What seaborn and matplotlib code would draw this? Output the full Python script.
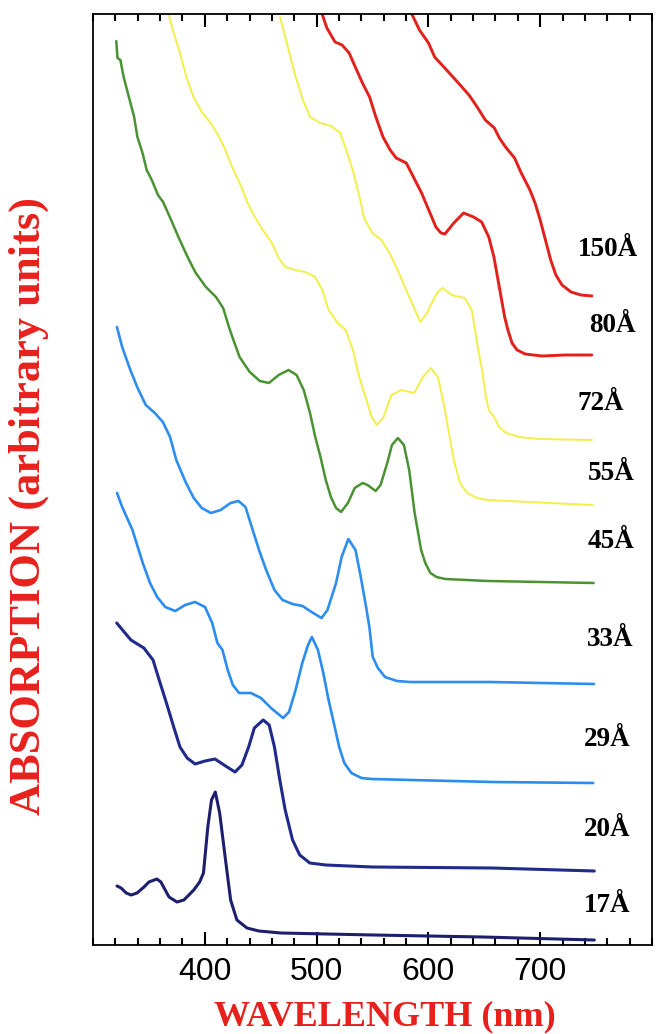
import matplotlib
matplotlib.use("Agg")
import matplotlib.pyplot as plt
import seaborn as sns
import pandas as pd
from matplotlib.ticker import FixedLocator, MultipleLocator

# ---------------- data (wavelength in nm, absorption in arbitrary units, offset stacked) -------------
sizes = ["17Å", "20Å", "29Å", "33Å", "45Å", "55Å", "72Å", "80Å", "150Å"]

wl_17 = [321.5, 325.1, 329.7, 334.1, 339.4, 345.6, 350.0, 357.1, 360.7, 368.0, 375.1, 381.3,
         387.5, 390.1, 395.4, 398.8, 402.7, 406.0, 409.4, 413.3, 418.2, 423.1, 428.7, 437.7,
         448.4, 468.0, 550.8, 648.7, 748.4]
ab_17 = [0.59, 0.57, 0.52, 0.50, 0.52, 0.58, 0.63, 0.66, 0.63, 0.48, 0.43, 0.45,
         0.52, 0.55, 0.63, 0.72, 1.18, 1.45, 1.53, 1.32, 0.88, 0.45, 0.25, 0.17,
         0.14, 0.12, 0.10, 0.08, 0.05]

wl_20 = [321.2, 333.9, 345.5, 353.7, 359.2, 365.7, 372.2, 377.8, 384.2, 391.3, 400.2, 409.1,
         417.2, 427.0, 433.2, 439.2, 444.3, 452.2, 457.6, 462.3, 467.1, 471.9, 478.5, 484.9,
         493.9, 508.2, 550.0, 656.8, 748.4]
ab_20 = [3.22, 3.05, 2.97, 2.85, 2.65, 2.42, 2.18, 1.98, 1.87, 1.81, 1.84, 1.86,
         1.80, 1.73, 1.80, 1.98, 2.17, 2.25, 2.20, 1.98, 1.65, 1.35, 1.05, 0.90,
         0.82, 0.80, 0.78, 0.77, 0.74]

wl_29 = [321.5, 326.1, 335.3, 344.5, 351.0, 357.4, 364.6, 373.6, 382.4, 391.3, 400.2, 406.6,
         411.3, 415.8, 420.5, 425.1, 430.6, 441.2, 450.2, 459.2, 470.0, 475.3, 481.2, 487.2,
         492.3, 495.8, 501.2, 506.0, 510.7, 515.4, 520.2, 524.8, 531.1, 540.1, 549.0, 657.6,
         747.4]
ab_29 = [4.52, 4.38, 4.15, 3.82, 3.62, 3.48, 3.38, 3.34, 3.40, 3.43, 3.38, 3.22,
         3.02, 2.95, 2.75, 2.60, 2.52, 2.52, 2.47, 2.37, 2.27, 2.33, 2.55, 2.82,
         3.00, 3.08, 2.95, 2.72, 2.45, 2.22, 1.98, 1.82, 1.72, 1.67, 1.66, 1.63,
         1.62]

wl_33 = [321.4, 326.1, 333.4, 339.9, 347.2, 355.3, 362.5, 368.9, 374.5, 382.8, 390.1, 397.3,
         405.4, 414.2, 423.0, 430.1, 436.4, 442.0, 448.5, 454.9, 462.3, 469.5, 478.5, 487.4,
         495.5, 504.4, 509.7, 517.4, 522.4, 528.4, 534.8, 539.5, 544.3, 547.2, 550.2, 554.8,
         561.2, 571.9, 583.5, 654.6, 748.1]
ab_33 = [6.18, 5.98, 5.75, 5.57, 5.40, 5.32, 5.23, 5.08, 4.85, 4.63, 4.47, 4.37,
         4.32, 4.35, 4.42, 4.44, 4.38, 4.18, 3.95, 3.75, 3.55, 3.45, 3.41, 3.39,
         3.33, 3.27, 3.35, 3.62, 3.88, 4.06, 3.95, 3.68, 3.38, 3.18, 2.88, 2.77,
         2.68, 2.64, 2.63, 2.63, 2.61]

wl_45 = [320.8, 321.9, 324.5, 327.4, 332.1, 336.8, 339.7, 344.3, 348.0, 352.6, 358.1, 362.7,
         369.1, 376.4, 384.6, 391.9, 401.0, 410.0, 416.4, 421.9, 425.6, 431.1, 440.2, 449.2,
         457.3, 466.1, 474.9, 482.1, 488.5, 494.1, 498.8, 503.5, 508.2, 512.8, 517.4, 521.9,
         528.0, 534.1, 541.1, 545.6, 552.8, 557.2, 563.2, 567.4, 572.7, 578.1, 582.8, 587.7,
         593.5, 597.2, 601.8, 607.2, 615.2, 653.5, 747.8]
ab_45 = [9.04, 8.87, 8.85, 8.68, 8.48, 8.28, 8.08, 7.92, 7.75, 7.65, 7.50, 7.43,
         7.27, 7.08, 6.88, 6.72, 6.58, 6.48, 6.37, 6.17, 6.05, 5.88, 5.73, 5.64,
         5.62, 5.70, 5.75, 5.70, 5.55, 5.32, 5.08, 4.88, 4.65, 4.48, 4.37, 4.33,
         4.42, 4.57, 4.62, 4.60, 4.54, 4.60, 4.82, 5.00, 5.07, 5.00, 4.75, 4.32,
         3.95, 3.82, 3.72, 3.68, 3.66, 3.64, 3.62]

wl_55 = [366.7, 371.4, 377.8, 383.5, 389.9, 397.2, 405.3, 410.8, 417.2, 424.5, 432.8, 438.3,
         444.7, 451.9, 460.1, 465.6, 471.9, 480.9, 489.8, 498.7, 505.1, 510.7, 518.8, 526.0,
         532.5, 538.1, 544.6, 549.3, 553.8, 560.0, 566.8, 575.7, 587.3, 595.1, 602.1, 608.4,
         613.1, 617.9, 622.7, 628.3, 634.7, 643.6, 652.5, 746.9]
ab_55 = [9.35, 9.15, 8.92, 8.68, 8.48, 8.33, 8.22, 8.12, 7.98, 7.78, 7.58, 7.42,
         7.28, 7.15, 7.02, 6.88, 6.78, 6.75, 6.73, 6.68, 6.55, 6.35, 6.22, 6.15,
         5.95, 5.68, 5.45, 5.28, 5.20, 5.28, 5.50, 5.55, 5.52, 5.68, 5.77, 5.68,
         5.45, 5.15, 4.85, 4.62, 4.52, 4.47, 4.45, 4.40]

wl_72 = [467.3, 472.0, 476.6, 481.3, 487.8, 494.2, 503.2, 513.0, 521.1, 526.6, 533.1, 539.7,
         542.5, 549.8, 557.9, 565.2, 572.5, 578.9, 585.3, 592.7, 598.8, 603.1, 608.3, 612.7,
         620.8, 632.4, 638.8, 641.7, 644.6, 648.4, 651.4, 654.2, 658.7, 663.3, 669.6, 681.2,
         699.0, 746.2]
ab_72 = [9.28, 9.08, 8.88, 8.68, 8.45, 8.28, 8.22, 8.19, 8.12, 7.95, 7.72, 7.42,
         7.27, 7.12, 7.05, 6.92, 6.75, 6.58, 6.42, 6.23, 6.32, 6.42, 6.53, 6.57,
         6.50, 6.47, 6.35, 6.15, 5.95, 5.72, 5.48, 5.35, 5.28, 5.18, 5.12, 5.08,
         5.06, 5.05]

wl_80 = [504.6, 509.2, 516.5, 522.8, 529.1, 534.6, 541.0, 547.4, 553.0, 559.4, 565.8, 571.2,
         580.2, 586.6, 593.9, 600.3, 606.7, 611.2, 614.8, 622.7, 631.5, 640.4, 647.6, 654.0,
         658.6, 663.4, 668.2, 671.1, 674.8, 679.3, 686.5, 701.6, 722.1, 746.1]
ab_80 = [9.32, 9.17, 9.03, 9.00, 8.92, 8.78, 8.62, 8.48, 8.28, 8.08, 7.95, 7.87,
         7.82, 7.68, 7.52, 7.35, 7.18, 7.12, 7.11, 7.22, 7.32, 7.28, 7.23, 7.08,
         6.88, 6.58, 6.28, 6.15, 6.02, 5.95, 5.91, 5.89, 5.90, 5.90]

wl_150 = [584.7, 592.0, 600.1, 605.6, 613.8, 622.8, 630.0, 636.3, 643.6, 650.9, 659.0, 663.5,
          669.0, 677.1, 682.6, 690.8, 695.4, 700.0, 704.7, 709.4, 714.0, 719.5, 727.6, 736.5,
          746.3]
ab_150 = [9.32, 9.15, 9.02, 8.88, 8.78, 8.67, 8.58, 8.50, 8.38, 8.25, 8.17, 8.07,
          7.98, 7.87, 7.73, 7.55, 7.42, 7.25, 7.05, 6.85, 6.70, 6.60, 6.53, 6.50,
          6.49]

x_ticks = [400, 500, 600, 700]
x_tick_labels = ["400", "500", "600", "700"]

series = {
    "17Å": (wl_17, ab_17), "20Å": (wl_20, ab_20), "29Å": (wl_29, ab_29),
    "33Å": (wl_33, ab_33), "45Å": (wl_45, ab_45), "55Å": (wl_55, ab_55),
    "72Å": (wl_72, ab_72), "80Å": (wl_80, ab_80), "150Å": (wl_150, ab_150),
}

# ---------------- styles ----------------
colors = {"17Å": "#1c1f6e", "20Å": "#1f2a8a", "29Å": "#2b8cf0", "33Å": "#2e8ef0",
          "45Å": "#4a9232", "55Å": "#f4ee48", "72Å": "#f4ee48", "80Å": "#e2201c",
          "150Å": "#e2201c"}
widths = {"17Å": 2.2, "20Å": 2.2, "29Å": 1.9, "33Å": 1.9, "45Å": 1.8, "55Å": 1.4,
          "72Å": 1.4, "80Å": 2.1, "150Å": 2.1}
# label anchor positions (nm, a.u.)
label_pos = {"150Å": (760.6, 6.95), "80Å": (764.2, 6.19), "72Å": (754.4, 5.41),
             "55Å": (763.3, 4.72), "45Å": (763.3, 4.03), "33Å": (762.4, 3.06),
             "29Å": (759.7, 2.05), "20Å": (759.7, 1.15), "17Å": (759.7, 0.39)}

frames = []
for s in sizes:
    w, a = series[s]
    frames.append(pd.DataFrame({"wavelength": w, "absorption": a, "size": s}))
df = pd.concat(frames, ignore_index=True)

sns.set_theme(style="ticks")
plt.rcParams["font.family"] = ["Liberation Sans", "DejaVu Sans"]

W, H = 658, 1034
fig = plt.figure(figsize=(W / 100, H / 100), dpi=100)
fig.patch.set_facecolor("white")
ax = fig.add_axes([93 / W, 89 / H, 559 / W, 931 / H])
ax.set_facecolor("white")

for s in sizes:
    sub = df[df["size"] == s]
    sns.lineplot(data=sub, x="wavelength", y="absorption", ax=ax, color=colors[s],
                 linewidth=widths[s], sort=False, estimator=None, legend=False)

for s in sizes:
    x, y = label_pos[s]
    ax.text(x, y, s, ha="center", va="center", fontsize=19.5, fontweight="bold",
            family=["Liberation Serif", "DejaVu Serif"], color="black")

ax.set_xlim(300, 800)
ax.set_ylim(0, 9.31)
ax.xaxis.set_major_locator(FixedLocator(x_ticks))
ax.set_xticklabels(x_tick_labels)
ax.xaxis.set_minor_locator(MultipleLocator(20))
ax.tick_params(axis="x", which="both", direction="in", top=True, bottom=True,
               width=1.5, color="black")
ax.tick_params(axis="x", which="major", length=9.5, labelsize=23, pad=9, labelcolor="black")
ax.tick_params(axis="x", which="minor", length=5)
ax.tick_params(axis="y", which="both", left=False, right=False, labelleft=False)
ax.set_xlabel("")
ax.set_ylabel("")
for sp in ax.spines.values():
    sp.set_visible(True)
    sp.set_color("black")
    sp.set_linewidth(1.3)

red = "#e8201c"
fig.text(384.5 / W, 1 - 1025 / H, "WAVELENGTH (nm)", ha="center", va="baseline",
         fontsize=26, fontweight="bold", color=red, family=["Liberation Serif", "DejaVu Serif"])
fig.text(29 / W, 1 - 506 / H, "ABSORPTION (arbitrary units)", ha="center", va="center",
         rotation=90, fontsize=32, fontweight="bold", color=red,
         family=["Liberation Serif", "DejaVu Serif"])

fig.savefig("out.png", dpi=100, facecolor="white")
